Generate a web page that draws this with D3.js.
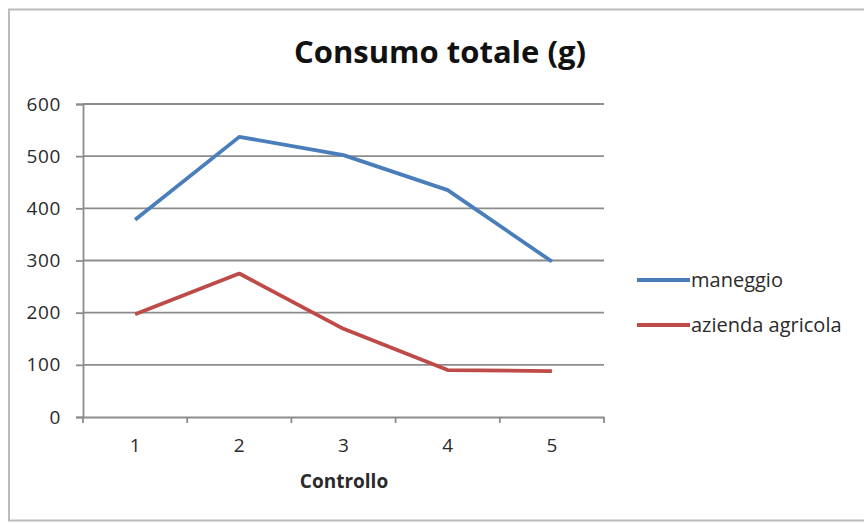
<!DOCTYPE html>
<html><head><meta charset="utf-8">
<script src="https://cdn.jsdelivr.net/npm/d3@7/dist/d3.min.js"></script>
<style>body{margin:0;background:#fff}svg{display:block}</style>
</head><body>
<script>
const categories = ["1","2","3","4","5"];
const maneggio = [378, 537, 502, 435, 298];
const azienda = [197, 275, 169, 90, 88];
const yTicks = [0,100,200,300,400,500,600];
const seriesNames = ["maneggio","azienda agricola"];
const seriesColors = ["#4A7EBB","#BE4B48"];

(function(){
const W=864,H=524;
const FF="Open Sans, sans-serif";
const svg=d3.select("body").append("svg").attr("width",W).attr("height",H);
svg.append("rect").attr("x",9).attr("y",9.5).attr("width",880).attr("height",511)
  .attr("fill","#fff").attr("stroke","#bbbbbb").attr("stroke-width",2);

const pl=83,pr=604,pt=104,pb=417;
const x=d3.scaleBand().domain(categories).range([pl,pr]);
const y=d3.scaleLinear().domain([0,600]).range([pb,pt]);

svg.append("g").selectAll("line").data(yTicks.filter(d=>d>0)).join("line")
  .attr("x1",pl).attr("x2",pr).attr("y1",d=>y(d)).attr("y2",d=>y(d))
  .attr("stroke","#8c8c8c").attr("stroke-width",1.8);

const ya=svg.append("g").attr("transform",`translate(${pl},0)`)
  .call(d3.axisLeft(y).tickValues(yTicks).tickSize(7).tickPadding(15));
ya.select(".domain").attr("stroke","#8c8c8c").attr("stroke-width",1.8);
ya.selectAll(".tick line").attr("stroke","#8c8c8c").attr("stroke-width",1.8);
ya.selectAll("text").attr("font-family",FF).attr("font-size",19).attr("letter-spacing",0.6).attr("fill","#2a2a2a");

const xa=svg.append("g").attr("transform",`translate(0,${pb})`)
  .call(d3.axisBottom(x).tickSize(0).tickPadding(22));
xa.select(".domain").attr("stroke","#8c8c8c").attr("stroke-width",1.8);
xa.selectAll("text").attr("font-family",FF).attr("font-size",19).attr("fill","#2a2a2a");
const bounds=categories.map(c=>x(c)).concat([pr]);
xa.append("g").selectAll("line").data(bounds).join("line")
  .attr("x1",d=>d).attr("x2",d=>d).attr("y1",0).attr("y2",6)
  .attr("stroke","#8c8c8c").attr("stroke-width",1.8);

const line=d3.line().x((d,i)=>x(categories[i])+x.bandwidth()/2).y(d=>y(d));
[maneggio,azienda].forEach((s,k)=>{
  svg.append("path").datum(s).attr("d",line).attr("fill","none")
    .attr("stroke",seriesColors[k]).attr("stroke-width",3.8).attr("stroke-linejoin","round");
});

svg.append("text").attr("x",440).attr("y",63).attr("text-anchor","middle")
  .attr("font-family",FF).attr("font-weight","bold").attr("font-size",31)
  .attr("fill","#111").text("Consumo totale (g)");
svg.append("text").attr("x",344).attr("y",488).attr("text-anchor","middle")
  .attr("font-family",FF).attr("font-weight","bold").attr("font-size",19)
  .attr("fill","#2a2a2a").text("Controllo");

const lg=svg.append("g");
seriesNames.forEach((n,k)=>{
  const yy=280+k*45;
  lg.append("line").attr("x1",637).attr("x2",690).attr("y1",yy).attr("y2",yy)
    .attr("stroke",seriesColors[k]).attr("stroke-width",4);
  lg.append("text").attr("x",691).attr("y",yy+7).attr("font-family",FF)
    .attr("font-size",20).attr("fill","#2a2a2a").text(n);
});
})();
</script>
</body></html>
